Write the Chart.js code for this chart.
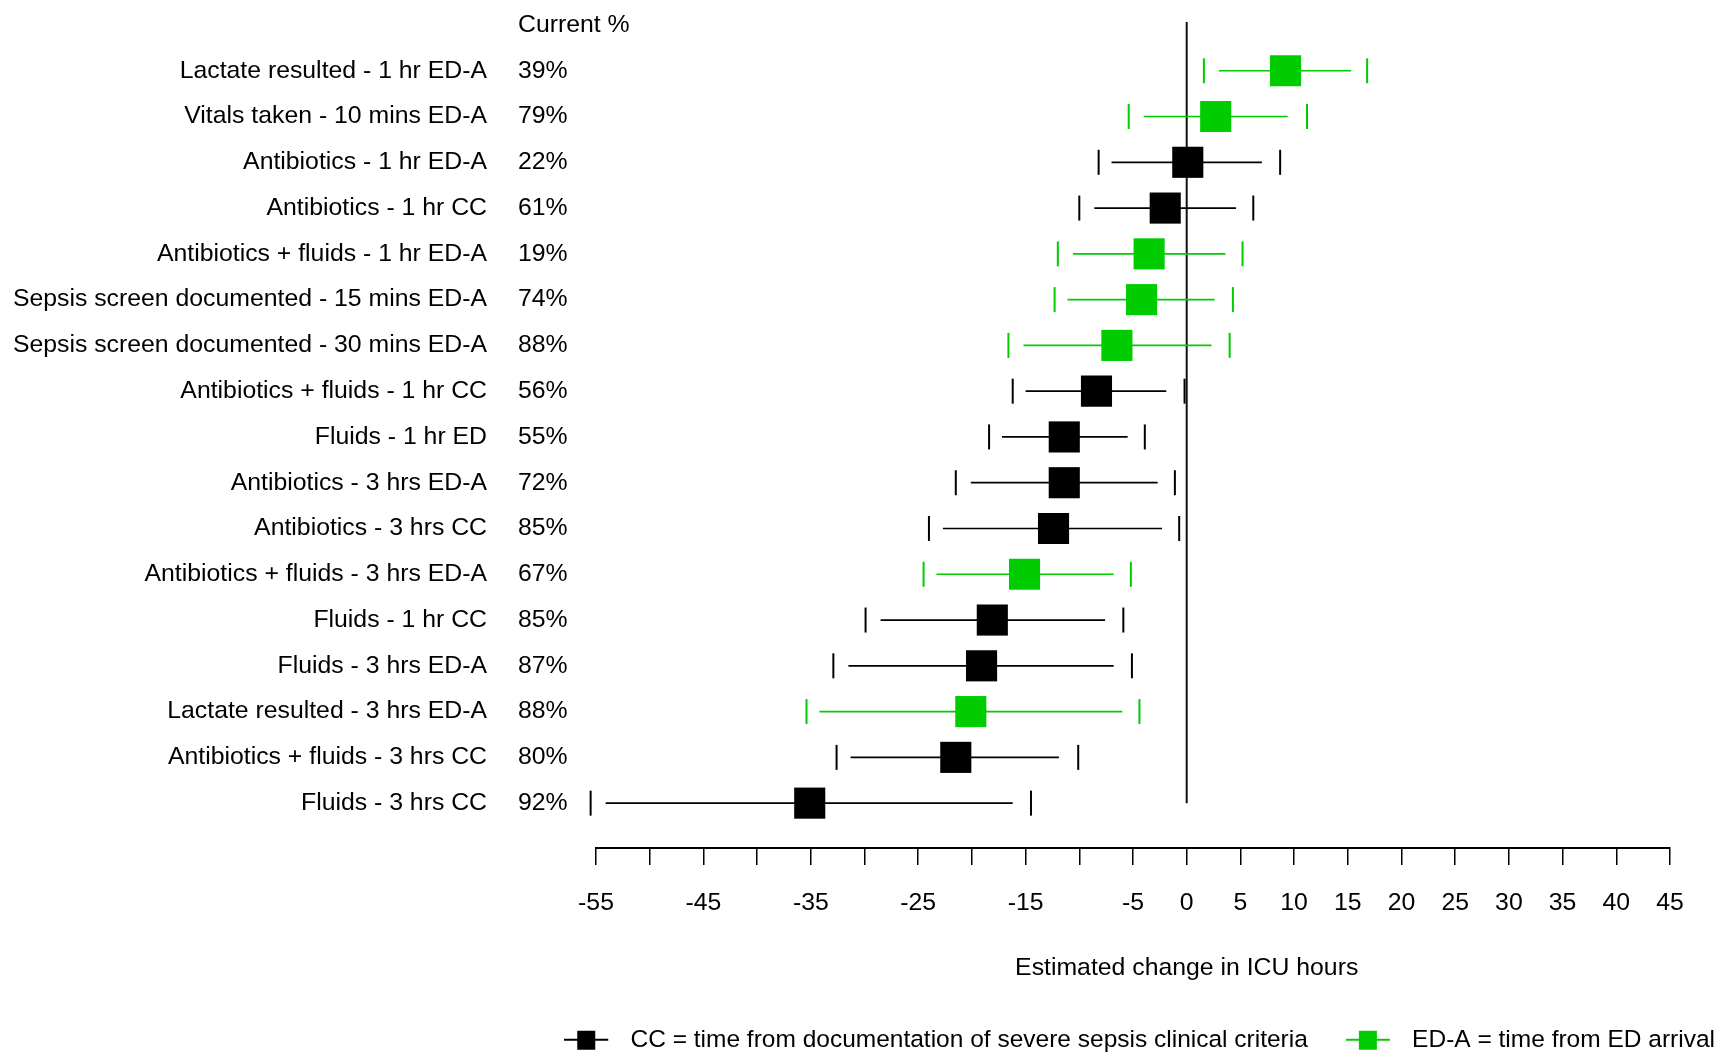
<!DOCTYPE html>
<html>
<head>
<meta charset="utf-8">
<title>Estimated change in ICU hours</title>
<script src="https://cdn.jsdelivr.net/npm/chart.js@4.4.1/dist/chart.umd.min.js"></script>
<style>
    html, body { margin: 0; padding: 0; background: #fff; }
    #grafico { display: block; }
</style>
</head>
<body>
<canvas id="grafico" width="1722" height="1058"></canvas>
<script>
// --- Dados ---

const rotulosLinhas = [
    'Lactate resulted - 1 hr ED-A',
    'Vitals taken - 10 mins ED-A',
    'Antibiotics - 1 hr ED-A',
    'Antibiotics - 1 hr CC',
    'Antibiotics + fluids - 1 hr ED-A',
    'Sepsis screen documented - 15 mins ED-A',
    'Sepsis screen documented - 30 mins ED-A',
    'Antibiotics + fluids - 1 hr CC',
    'Fluids - 1 hr ED',
    'Antibiotics - 3 hrs ED-A',
    'Antibiotics - 3 hrs CC',
    'Antibiotics + fluids - 3 hrs ED-A',
    'Fluids - 1 hr CC',
    'Fluids - 3 hrs ED-A',
    'Lactate resulted - 3 hrs ED-A',
    'Antibiotics + fluids - 3 hrs CC',
    'Fluids - 3 hrs CC'
];
const percentAtual = ['39%', '79%', '22%', '61%', '19%', '74%', '88%', '56%', '55%', '72%', '85%', '67%', '85%', '87%', '88%', '80%', '92%'];
const cabecalhoPercent = 'Current %';

// grupo de cor de cada linha (preto = CC, verde = ED-A)
const grupoLinha = ['ED-A', 'ED-A', 'CC', 'CC', 'ED-A', 'ED-A', 'ED-A', 'CC', 'CC', 'CC', 'CC', 'ED-A', 'CC', 'CC', 'ED-A', 'CC', 'CC'];

const estimativa     = [9.2, 2.7, 0.1, -2.0, -3.5, -4.2, -6.5, -8.4, -11.4, -11.4, -12.4, -15.1, -18.1, -19.1, -20.1, -21.5, -35.1];
const icInferior     = [3.0, -4.0, -7.0, -8.6, -10.6, -11.1, -15.2, -15.0, -17.2, -20.1, -22.7, -23.3, -28.5, -31.5, -34.2, -31.3, -54.1];
const icSuperior     = [15.3, 9.4, 7.0, 4.6, 3.6, 2.6, 2.3, -1.9, -5.5, -2.7, -2.3, -6.8, -7.6, -6.8, -6.0, -11.9, -16.2];
const limiteInferior = [1.6, -5.4, -8.2, -10.0, -12.0, -12.3, -16.6, -16.2, -18.4, -21.5, -24.0, -24.5, -29.9, -32.9, -35.4, -32.6, -55.5];
const limiteSuperior = [16.8, 11.2, 8.7, 6.2, 5.2, 4.3, 4.0, -0.2, -3.9, -1.1, -0.7, -5.2, -5.9, -5.1, -4.4, -10.1, -14.5];

const rotulosEixoX = [-55, -45, -35, -25, -15, -5, 0, 5, 10, 15, 20, 25, 30, 35, 40, 45];
const tituloEixoX = 'Estimated change in ICU hours';

const legendas = {
    'CC': 'CC = time from documentation of severe sepsis clinical criteria',
    'ED-A': 'ED-A = time from ED arrival'
};

// --- Estilo ---

const corPreto = '#000000';
const corVerde = '#00CC00';
const coresGrupo = { 'CC': corPreto, 'ED-A': corVerde };
const fonte = "'Liberation Sans', Arial, sans-serif";
const tamanhoFonte = 24.8;
const tamanhoLegenda = 24.5;

Chart.defaults.font.family = fonte;
Chart.defaults.font.size = tamanhoFonte;
Chart.defaults.color = corPreto;

// faixa vertical: linha 0 = cabeçalho, linhas 1..17 = itens
const yMin = -0.065;
const yMax = 17.98;
const ticksLinhas = [0, ...rotulosLinhas.map((_, i) => i + 1)];

/**
 * Marcador da legenda: linha horizontal com quadrado no meio
 * (a sobra à direita abre o espaço até o texto).
 */
const criarMarcador = (cor) => {
    const c = document.createElement('canvas');
    c.width = 54;
    c.height = 24;
    const g = c.getContext('2d');
    g.strokeStyle = cor;
    g.lineWidth = 2;
    g.beginPath();
    g.moveTo(0, 12);
    g.lineTo(44, 12);
    g.stroke();
    g.fillStyle = cor;
    g.fillRect(13, 3, 18, 19);
    return c;
};

/**
 * Monta os datasets (quadrado, IC e marcas externas) de um grupo de cor.
 */
const montarDatasets = (grupo) => {
    const cor = coresGrupo[grupo];
    const indices = grupoLinha.map((g, i) => (g === grupo ? i : -1)).filter(i => i >= 0);
    return [
        {
            label: grupo + ' estimativa',
            data: indices.map(i => ({ x: estimativa[i], y: i + 1 })),
            pointStyle: 'rect',
            pointRadius: 22,
            backgroundColor: cor,
            borderWidth: 0,
            order: 0,
            clip: false
        },
        {
            label: grupo + ' intervalo',
            data: indices.flatMap(i => [
                { x: icInferior[i], y: i + 1 },
                { x: icSuperior[i], y: i + 1 },
                { x: null, y: null }
            ]),
            showLine: true,
            spanGaps: false,
            pointRadius: 0,
            borderColor: cor,
            borderWidth: 1.7,
            order: 1,
            clip: false
        },
        {
            label: grupo + ' limites',
            data: indices.flatMap(i => [
                { x: limiteInferior[i], y: i + 1 },
                { x: limiteSuperior[i], y: i + 1 }
            ]),
            pointStyle: 'line',
            rotation: 90,
            pointRadius: 12.5,
            borderColor: cor,
            backgroundColor: cor,
            borderWidth: 2,
            order: 1,
            clip: false
        }
    ];
};

// título do eixo x centralizado no zero, como no original
const tituloNoZero = {
    id: 'tituloNoZero',
    afterDraw(chart) {
        const { ctx, scales: { x } } = chart;
        ctx.save();
        ctx.font = tamanhoFonte + 'px ' + fonte;
        ctx.fillStyle = corPreto;
        ctx.textAlign = 'center';
        ctx.textBaseline = 'middle';
        ctx.fillText(tituloEixoX, x.getPixelForValue(0), x.top + 120);
        ctx.restore();
    }
};

// a legenda do original encosta na borda direita e fica um pouco mais baixa
const ajustarLegenda = {
    id: 'ajustarLegenda',
    afterLayout(chart) {
        const legenda = chart.legend;
        legenda.left += 31;
        legenda.right += 31;
        legenda.top += 6;
        legenda.bottom += 6;
    }
};

// eixos y sem folga extra em cima/baixo (a área do gráfico começa em 20px)
const semFolgaVertical = (eixo, largura) => {
    eixo.width = largura;
    eixo.paddingTop = 0;
    eixo.paddingBottom = 0;
};

const ctx = document.getElementById('grafico').getContext('2d');
new Chart(ctx, {
    type: 'scatter',
    data: {
        datasets: [
            ...montarDatasets('CC'),
            ...montarDatasets('ED-A'),
            {
                label: 'zero',
                data: [{ x: 0, y: yMin }, { x: 0, y: rotulosLinhas.length }],
                showLine: true,
                pointRadius: 0,
                borderColor: '#111',
                borderWidth: 2,
                order: 2,
                clip: false
            }
        ]
    },
    options: {
        responsive: false,
        animation: false,
        events: [],
        layout: { padding: { top: 20, right: 0, bottom: 2, left: 0 } },
        plugins: {
            tooltip: { enabled: false },
            legend: {
                position: 'bottom',
                align: 'end',
                onClick: null,
                labels: {
                    usePointStyle: true,
                    pointStyleWidth: 54,
                    boxHeight: 24,
                    padding: 38,
                    color: corPreto,
                    font: { size: tamanhoLegenda },
                    generateLabels: () => ['CC', 'ED-A'].map((g, i) => ({
                        text: legendas[g],
                        pointStyle: criarMarcador(coresGrupo[g]),
                        fillStyle: coresGrupo[g],
                        strokeStyle: coresGrupo[g],
                        fontColor: corPreto,
                        lineWidth: 0,
                        hidden: false,
                        datasetIndex: i * 3
                    }))
                }
            }
        },
        scales: {
            x: {
                type: 'linear',
                position: 'bottom',
                min: -55,
                max: 45,
                ticks: {
                    stepSize: 5,
                    autoSkip: false,
                    maxRotation: 0,
                    padding: 23,
                    color: corPreto,
                    callback: (v) => (rotulosEixoX.includes(v) ? String(v) : '')
                },
                grid: {
                    drawOnChartArea: false,
                    drawTicks: true,
                    tickLength: 17,
                    color: corPreto,
                    lineWidth: 1.5
                },
                border: { display: true, color: corPreto, width: 2 },
                afterFit: (eixo) => { eixo.height = 135.5; }
            },
            // coluna de percentuais (espelhada para o texto não ser cortado)
            yPct: {
                axis: 'y',
                type: 'linear',
                position: 'left',
                weight: 2,
                reverse: true,
                min: yMin,
                max: yMax,
                grid: { display: false, drawTicks: false },
                border: { display: false },
                afterBuildTicks: (eixo) => { eixo.ticks = ticksLinhas.map(v => ({ value: v })); },
                ticks: {
                    autoSkip: false,
                    mirror: true,
                    crossAlign: 'near',
                    padding: 508,
                    color: corPreto,
                    callback: (v) => (v === 0 ? cabecalhoPercent : percentAtual[v - 1])
                },
                afterFit: (eixo) => semFolgaVertical(eixo, 10)
            },
            // nomes das linhas
            y: {
                type: 'linear',
                position: 'left',
                weight: 1,
                reverse: true,
                min: yMin,
                max: yMax,
                grid: { display: false, drawTicks: false },
                border: { display: false },
                afterBuildTicks: (eixo) => { eixo.ticks = ticksLinhas.map(v => ({ value: v })); },
                ticks: {
                    autoSkip: false,
                    padding: 109,
                    color: corPreto,
                    callback: (v) => (v === 0 ? '' : rotulosLinhas[v - 1])
                },
                afterFit: (eixo) => semFolgaVertical(eixo, 586)
            },
            yDireita: {
                axis: 'y',
                type: 'linear',
                position: 'right',
                min: 0,
                max: 1,
                grid: { display: false, drawTicks: false },
                border: { display: false },
                ticks: { display: false },
                afterFit: (eixo) => semFolgaVertical(eixo, 52)
            }
        }
    },
    plugins: [tituloNoZero, ajustarLegenda]
});
</script>
</body>
</html>
